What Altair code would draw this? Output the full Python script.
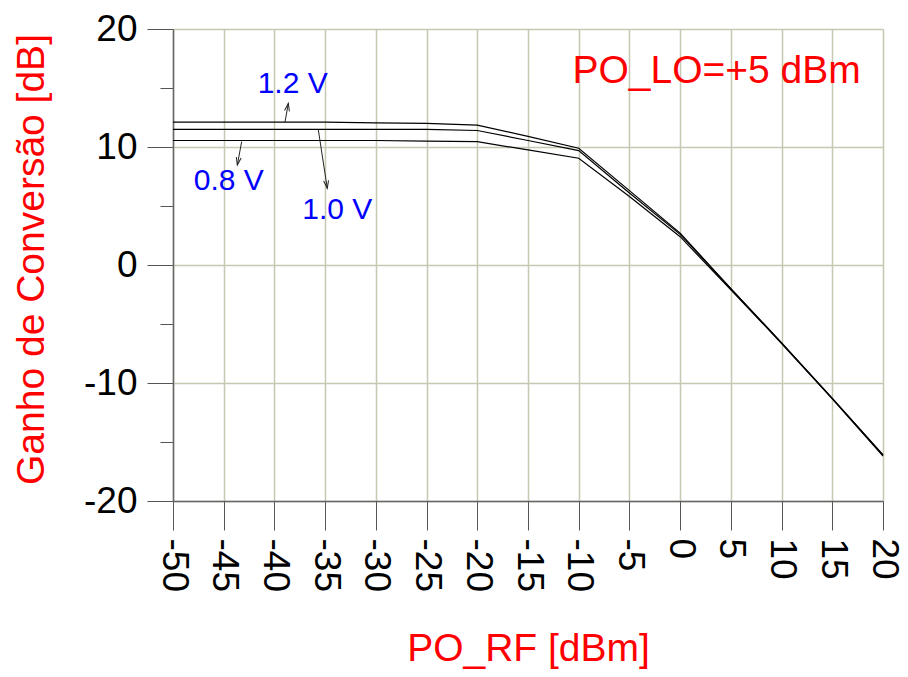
import math
import altair as alt
import pandas as pd

# ---- data ----
po_rf = [-50, -45, -40, -35, -30, -25, -20, -15, -10, -5, 0, 5, 10, 15, 20]
gain_12v = [12.1, 12.1, 12.1, 12.1, 12.05, 12.0, 11.85, 10.9, 9.9, 6.3, 2.7, -2.0, -6.6, -11.3, -16.1]
gain_10v = [11.5, 11.5, 11.5, 11.5, 11.5, 11.5, 11.4, 10.55, 9.7, 6.1, 2.6, -2.0, -6.6, -11.3, -16.1]
gain_08v = [10.55, 10.55, 10.55, 10.55, 10.55, 10.5, 10.45, 9.75, 9.05, 5.8, 2.4, -2.1, -6.65, -11.35, -16.2]
series_names = ["1.2 V", "1.0 V", "0.8 V"]

label_x = [-38.2, -33.8, -44.5]
label_y = [15.3, 4.7, 7.1]
arrow_x0 = [-38.96, -35.67, -43.23]
arrow_y0 = [12.1, 11.44, 10.45]
arrow_x1 = [-38.63, -34.79, -43.66]
arrow_y1 = [13.7, 6.5, 8.47]

note_text = ["PO_LO=+5 dBm"]
note_x = [3.6]
note_y = [15.4]

x_ticks = list(range(-50, 25, 5))
y_ticks = list(range(-20, 25, 5))

# ---- layout ----
W, H = 710, 472
XMIN, XMAX, YMIN, YMAX = -50, 20, -20, 20
FONT = "Liberation Sans"
GRID = "#c8c8b2"
RED = "#ff0000"
BLUE = "#0000ff"

rows = []
for name, vals in zip(series_names, [gain_12v, gain_10v, gain_08v]):
    for xv, yv in zip(po_rf, vals):
        rows.append({"series": name, "x": xv, "y": yv})
df = pd.DataFrame(rows)

px_per_x = W / (XMAX - XMIN)
px_per_y = H / (YMAX - YMIN)
arrows = pd.DataFrame({
    "series": series_names,
    "lx": label_x, "ly": label_y,
    "x0": arrow_x0, "y0": arrow_y0, "x1": arrow_x1, "y1": arrow_y1,
})
def head_angle(r):
    dxp = (r.x1 - r.x0) * px_per_x
    dyp = -(r.y1 - r.y0) * px_per_y
    return math.degrees(math.atan2(-dxp, dyp)) % 360
arrows["ang"] = arrows.apply(head_angle, axis=1)

notes = pd.DataFrame({"t": note_text, "x": note_x, "y": note_y})

xscale = alt.Scale(domain=[XMIN, XMAX], nice=False, zero=False)
yscale = alt.Scale(domain=[YMIN, YMAX], nice=False, zero=False)

xaxis = alt.Axis(
    values=x_ticks, labelExpr="'' + datum.value", labelAngle=90,
    labelAlign="left", labelBaseline="middle", labelPadding=8,
    labelFont=FONT, labelFontSize=37, labelColor="black",
    tickSize=29, tickColor="#555555", domainColor="#666666", domainWidth=1.5,
    grid=True, gridColor=GRID, gridWidth=1.5,
    title="PO_RF [dBm]", titleFont=FONT, titleFontSize=39, titleFontWeight="normal",
    titleColor=RED, titleX=W / 2, titleY=159, titleAlign="center",
    titleBaseline="alphabetic", labelOverlap=False, labelFlush=False,
)
yaxis = alt.Axis(
    values=y_ticks,
    labelExpr="datum.value % 10 === 0 ? '' + datum.value : ''",
    labelPadding=10, labelFont=FONT, labelFontSize=37, labelColor="black",
    labelBaseline="middle",
    tickSize={"condition": {"test": "datum.value % 10 === 0", "value": 26}, "value": 13},
    tickColor="#555555", domainColor="#666666", domainWidth=1.5,
    grid=True, gridColor=GRID, gridWidth=1.5,
    gridOpacity={"condition": {"test": "datum.value % 10 === 0", "value": 1}, "value": 0},
    title="Ganho de Conversão [dB]", titleFont=FONT, titleFontSize=39,
    titleFontWeight="normal", titleColor=RED, titleAngle=270,
    titleX=-142, titleY=H / 2 - 6, titleAlign="center", titleBaseline="middle",
    labelOverlap=False, labelFlush=False,
)

lines = alt.Chart(df).mark_line(color="black", strokeWidth=1.2).encode(
    x=alt.X("x:Q", scale=xscale, axis=xaxis),
    y=alt.Y("y:Q", scale=yscale, axis=yaxis),
    detail="series:N",
)

shafts = alt.Chart(arrows).mark_rule(color="#222222", strokeWidth=1).encode(
    x="x0:Q", y="y0:Q", x2="x1:Q", y2="y1:Q",
)
heads = alt.Chart(arrows).mark_point(
    shape="M-0.7,-2.2L0,0L0.7,-2.2", filled=False, color="#222222", strokeWidth=1,
    size=49, opacity=1,
).encode(
    x="x1:Q", y="y1:Q", angle=alt.Angle("ang:Q", scale=None),
)
labels = alt.Chart(arrows).mark_text(
    font=FONT, fontSize=30, color=BLUE, align="center", baseline="middle",
).encode(x="lx:Q", y="ly:Q", text="series:N")

note = alt.Chart(notes).mark_text(
    font=FONT, fontSize=39, color=RED, align="center", baseline="alphabetic",
).encode(x="x:Q", y="y:Q", text="t:N")

chart = alt.layer(lines, shafts, heads, labels, note).properties(
    width=W, height=H,
    autosize=alt.AutoSizeParams(type="none"),
    padding={"left": 165, "top": 21, "right": 17, "bottom": 168},
).configure_view(stroke="#555555", strokeWidth=1.5).configure(background="white")

chart.save("out.html", embed_options={"renderer": "svg", "actions": False})
